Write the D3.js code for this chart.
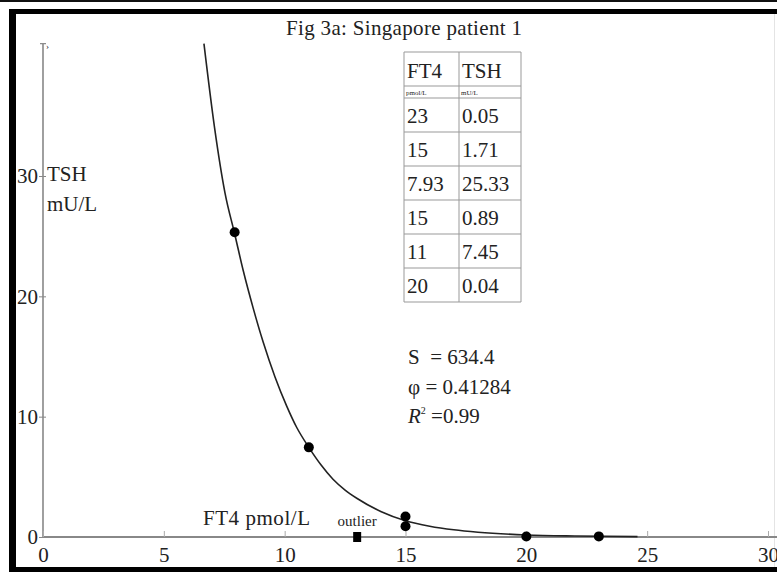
<!DOCTYPE html>
<html><head><meta charset="utf-8">
<script src="https://cdn.jsdelivr.net/npm/d3@7"></script>
<style>
html,body{margin:0;padding:0;background:#fff;}
svg{display:block;}
text{font-family:"Liberation Serif","Times New Roman",serif;fill:#222;}
</style></head>
<body>
<svg id="chart" width="777" height="572"></svg>
<script>
// ---- data ----
const title = "Fig 3a: Singapore patient 1";
const ft4 = [23, 15, 7.93, 15, 11, 20];
const tsh = [0.05, 1.71, 25.33, 0.89, 7.45, 0.04];
const ft4Text = ["23", "15", "7.93", "15", "11", "20"];
const tshText = ["0.05", "1.71", "25.33", "0.89", "7.45", "0.04"];
const outlierFT4 = [13];
const outlierTSH = [0];
const outlierLabel = "outlier";
// fitted curve
const curveFT4 = [6.66, 7.1, 7.53, 7.93, 8.29, 8.7, 9.11, 9.6, 10.08, 10.5, 11, 11.5, 12, 12.5, 13, 14, 15, 16, 17, 18, 20, 22, 24.6];
const curveTSH = [41, 34, 28.6, 25.2, 22.1, 19.0, 16.2, 13.3, 10.9, 9.1, 7.45, 6.0, 4.8, 3.9, 3.2, 2.1, 1.35, 0.9, 0.6, 0.4, 0.17, 0.08, 0.03];
const xTicks = [0, 5, 10, 15, 20, 25, 30];
const yTicks = [0, 10, 20, 30];
const xLabel = "FT4 pmol/L";
const yLabel = ["TSH", "mU/L"];
const tableHead = ["FT4", "TSH"];
const tableUnits = ["pmol/L", "mU/L"];
const statLines = [["S", "  = 634.4"], ["φ", " = 0.41284"], ["R", " =0.99"]];

// ---- drawing ----
const svg = d3.select("#chart");
const W = 777, H = 572;
const x = d3.scaleLinear().domain([0, 30]).range([43, 768]);
const y = d3.scaleLinear().domain([0, 30]).range([537, 176]);

svg.append("rect").attr("width", W).attr("height", H).attr("fill", "#fff");

// frame
svg.append("rect").attr("x", 0).attr("y", 0).attr("width", W).attr("height", 2).attr("fill", "#111");
svg.append("rect").attr("x", 9).attr("y", 9).attr("width", W - 9).attr("height", 5).attr("fill", "#000");
svg.append("rect").attr("x", 9).attr("y", 9).attr("width", 7).attr("height", H - 9).attr("fill", "#000");
svg.append("rect").attr("x", 9).attr("y", 567).attr("width", W - 9).attr("height", 5).attr("fill", "#000");
svg.append("line").attr("x1", 774.5).attr("x2", 774.5).attr("y1", 14).attr("y2", 567).attr("stroke", "#e4e4e4").attr("stroke-width", 1);

// axes lines
svg.append("line").attr("x1", x(0)).attr("x2", W).attr("y1", y(0)).attr("y2", y(0))
  .attr("stroke", "#888").attr("stroke-width", 2);
svg.append("line").attr("x1", x(0)).attr("x2", x(0)).attr("y1", y(0)).attr("y2", y(41))
  .attr("stroke", "#888").attr("stroke-width", 1.6);
// small top tick mark
svg.append("line").attr("x1", x(0) - 3).attr("x2", x(0) + 3).attr("y1", y(41)).attr("y2", y(41))
  .attr("stroke", "#888").attr("stroke-width", 1.2);
svg.append("text").attr("x", x(0) + 3).attr("y", y(41) + 5).attr("font-size", 9).attr("fill", "#aaa").text("›");

// x axis
const xAxis = d3.axisBottom(x).tickValues(xTicks).tickSizeInner(-6).tickSizeOuter(0).tickFormat(d3.format("d"));
const gx = svg.append("g").attr("transform", `translate(0,${y(0)})`).call(xAxis);
gx.select(".domain").remove();
gx.selectAll(".tick line").attr("stroke", "#aaa").attr("stroke-width", 1);
gx.selectAll(".tick text").attr("y", 25).attr("dy", 0).attr("font-size", 21)
  .attr("font-family", "Liberation Serif, serif").attr("fill", "#222");

// y axis
const yAxis = d3.axisLeft(y).tickValues(yTicks).tickSizeInner(4).tickSizeOuter(0).tickFormat(d3.format("d"));
const gy = svg.append("g").attr("transform", `translate(${x(0)},0)`).call(yAxis);
gy.select(".domain").remove();
gy.selectAll(".tick line").attr("stroke", "#888").attr("stroke-width", 1).attr("x2", 3).attr("x1", -4);
gy.selectAll(".tick text").attr("x", -5).attr("dy", "0.33em").attr("font-size", 21)
  .attr("font-family", "Liberation Serif, serif").attr("fill", "#222");

// axis labels
svg.append("text").attr("x", 47).attr("y", 181).attr("font-size", 21).text(yLabel[0]);
svg.append("text").attr("x", 47).attr("y", 211).attr("font-size", 21).text(yLabel[1]);
svg.append("text").attr("x", 203).attr("y", 525).attr("font-size", 21).attr("textLength", 107).text(xLabel);

// title
svg.append("text").attr("x", 404).attr("y", 35).attr("text-anchor", "middle").attr("font-size", 21)
  .attr("textLength", 236).text(title);

// curve
const curvePts = curveFT4.map((d, i) => [d, curveTSH[i]]);
const line = d3.line().x(d => x(d[0])).y(d => y(d[1])).curve(d3.curveMonotoneX);
svg.append("path").attr("d", line(curvePts)).attr("fill", "none").attr("stroke", "#222").attr("stroke-width", 1.6);

// points
const pts = ft4.map((d, i) => ({ f: d, t: tsh[i] }));
svg.append("g").selectAll("circle").data(pts).join("circle")
  .attr("cx", d => x(d.f)).attr("cy", d => y(d.t)).attr("r", 5).attr("fill", "#000");

// outlier
const outPts = outlierFT4.map((d, i) => ({ f: d, t: outlierTSH[i] }));
svg.append("g").selectAll("rect").data(outPts).join("rect")
  .attr("x", d => x(d.f) - 4).attr("y", d => y(d.t) - 5).attr("width", 8).attr("height", 10).attr("fill", "#000");
svg.append("text").attr("x", x(outlierFT4[0])).attr("y", 526).attr("text-anchor", "middle")
  .attr("font-size", 15).attr("fill", "#444").text(outlierLabel);

// table
const tx0 = 404, tx1 = 459, tx2 = 521;
const rowTops = [52, 86, 98];
for (let i = 1; i <= tsh.length; i++) rowTops.push(98 + i * 34);
const tg = svg.append("g");
tg.selectAll("line.h").data(rowTops).join("line").attr("class", "h")
  .attr("x1", tx0).attr("x2", tx2).attr("y1", d => d).attr("y2", d => d)
  .attr("stroke", "#999").attr("stroke-width", 1);
tg.selectAll("line.v").data([tx0, tx1, tx2]).join("line").attr("class", "v")
  .attr("x1", d => d).attr("x2", d => d).attr("y1", rowTops[0]).attr("y2", rowTops[rowTops.length - 1])
  .attr("stroke", "#999").attr("stroke-width", 1);
tg.append("text").attr("x", tx0 + 3).attr("y", 78).attr("font-size", 21).text(tableHead[0]);
tg.append("text").attr("x", tx1 + 3).attr("y", 78).attr("font-size", 21).text(tableHead[1]);
tg.append("text").attr("x", tx0 + 2).attr("y", 95).attr("font-size", 7).attr("fill", "#555").text(tableUnits[0]);
tg.append("text").attr("x", tx1 + 2).attr("y", 95).attr("font-size", 7).attr("fill", "#555").text(tableUnits[1]);
ft4Text.forEach((s, i) => {
  const base = 98 + i * 34 + 25;
  tg.append("text").attr("x", tx0 + 3).attr("y", base).attr("font-size", 21).text(s);
  tg.append("text").attr("x", tx1 + 3).attr("y", base).attr("font-size", 21).text(tshText[i]);
});

// stats
const sg = svg.append("g");
const statY = [364, 394, 423];
statLines.forEach((s, i) => {
  const t = sg.append("text").attr("x", 408).attr("y", statY[i]).attr("font-size", 21).attr("xml:space", "preserve");
  if (i === 2) {
    t.append("tspan").attr("font-style", "italic").text(s[0]);
    t.append("tspan").attr("dy", -9).attr("font-size", 10).text("2");
    t.append("tspan").attr("dy", 9).text(s[1]);
  } else {
    t.append("tspan").text(s[0]);
    t.append("tspan").text(s[1]);
  }
});
</script>
</body></html>
